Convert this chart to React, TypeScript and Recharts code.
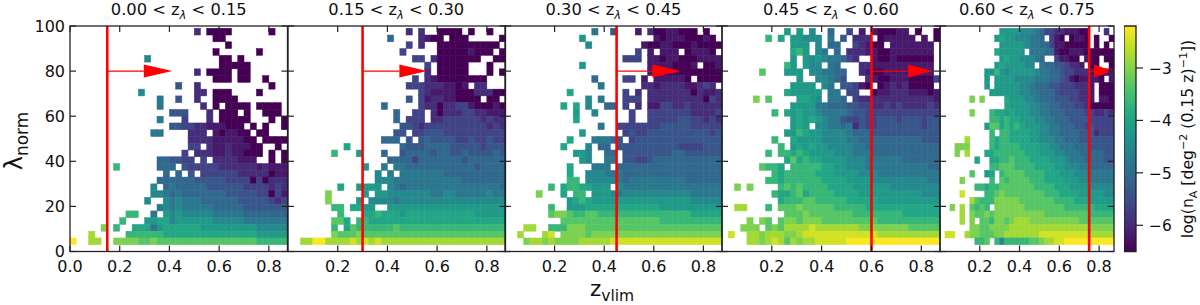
import { Bar, BarChart, ReferenceLine, Scatter, ScatterChart, XAxis, YAxis } from 'recharts';

// one string per lambda bin, top row (96-99) first; each char is an index into logLevels, '.' = no clusters
const rows000to015 = [
  '..... ..... ..... ..... 2.000 0.... ..0..',
  '..... ..... ..... ..... ...00 ..... .....',
  '..... ..... ..... ..... ..... 0.... .....',
  '..... ..... ..... ..... ...0. ..... 0....',
  '..... ..... ..7.. ..... ....0 0.0.. .....',
  '..... ..... ..... ..... ....0 0000. .....',
  '..... ..... ..... ..... 2.000 0.00. .....',
  '..... ..... ..... ..... ...00 0.00. .0...',
  '..... ..... ..... ..4.. 2.... ..... ..0..',
  '..... ..... .7... ..... 22.00 0.... 0....',
  '..... ..... ....6 ..4.. 2..00 00... .....',
  '..... ..... ....6 ..... .2.0. 0000. 0000.',
  '..... ..... ..... .444. ..2.0 00.0. .000.',
  '..... ..... ....6 ...3. ..2.0 0000. ..0.0',
  '..... ..... ..... .4433 22111 000.0 .0..0',
  '..... ..... ...66 ....2 22.10 1100. 00...',
  '..... ..... ..... ....2 22211 11100 .0000',
  '..... ..... ..... ....3 3.211 21110 0..0.',
  '..... ..... ..... ...3. 22211 21100 0.0.0',
  '..... ..... ....5 54433 .3.22 22111 ..0.0',
  '..... ..a.. ....5 55.43 33332 22222 12111',
  '..... ..... ..... 5.5.4 .3333 33222 22011',
  '..... ..... ....5 55555 44444 33330 30222',
  '..... ..... ...7. 56555 55444 44433 33232',
  '..... ..... ...77 65655 55555 44444 33031',
  '..... ..... ..7.. 76766 65555 55444 44323',
  '..... ..... ....6 76766 66655 55544 44444',
  '..... ....a a..6. 87877 77766 66655 55555',
  '..... ...a. ..889 97888 88877 77766 66666',
  '..... c.a.. 99968 99999 98888 88888 77777',
  '...d. ....a aaaaa 99999 99999 99999 88888',
  'f..dd ..ccc cbbcb bbbbb bbbbb bbbbb aaaaa',
];

const rows015to030 = [
  '..... ..... ..... ....2 .2..0 000.0 ..0..',
  '..... ..... ..... .5... .2100 .000. ....0',
  '..... ..... ..... ....3 .2..0 00000 0000.',
  '..... ..... ..... ...3. ....0 00001 000.0',
  '..... ..... ..... ..... 33.20 00000 0..00',
  '..... ..... ..... ..... ..3.0 0000. ..0..',
  '..... ..... ..... ..... ..2.0 0000. ..0.0',
  '..... ..... ..... ..... 3.210 00000 00...',
  '..... ..... ..... ....3 33222 1101. 22...',
  '..... ..... ..... ..... .3211 11000 22200',
  '..... ..... ..... ....4 .3122 11000 0.00.',
  '..... ..... ..... 5.... .3220 22331 00010',
  '..... ..... ..... ..5.. 33.20 22233 22111',
  '..... ..... ..... ..5.3 33.22 33333 32322',
  '..... ..... ..... ...44 32333 33333 33232',
  '..... ..... ..... ..44. 33444 33333 33333',
  '..... ..... ..... 555.4 .4544 44334 33433',
  '..... ....9 ..... ...54 44555 54444 43444',
  '..... ..a.. .8... 5..45 55545 54454 44454',
  '..... ..... ..... .5555 35555 55545 55555',
  '..... ..... ..8.. 6.665 55555 55555 45555',
  '..... ..... ....7 .6.66 66666 55555 55555',
  '..... ..... ....7 77666 66666 66655 55555',
  '..... ...9. .8888 .7656 66666 66666 66665',
  '..... .c... ..8.8 87777 77766 77666 66766',
  '..... .c... .8.77 77677 77777 77777 77777',
  '..... ..aa. 9988. .8888 88888 88888 88888',
  '..... ...a. ..99a 99989 99999 99999 88888',
  '..... ..bb9 .aa99 99999 99999 99999 99999',
  '..... ..a.9 baaaa aabaa aaaaa aaaaa aaaaa',
  '..... ..cbb bcbbb bbbbb bbbbb bbbbb bbbbb',
  '..ddf fdddd edede ddddd ddddd ddddd ddddd',
];

const rows030to045 = [
  '..... ..... ....6 ..4.. .1.20 01100 0.0..',
  '..... ..... ..8.. ..... ....1 01110 0010.',
  '..... ..... ...7. ..... ..100 11000 10000',
  '..... ..... ..... ..... .3.1. 111.0 1110.',
  '..... ..... ..... ....3 33.11 01100 01111',
  '..... ..... ..8.. ..... ...11 11000 1.001',
  '..... ..... ..... ..... ...10 00000 00000',
  '..... ..... ....5 ....3 3.1.1 11110 .0000',
  '..... ..... ..... 6.... ..221 22221 1232.',
  '..... ..... 9.... ....3 .2.22 22222 02112',
  '..... ..... ...7. 6...3 33.22 22222 22032',
  '..... ....9 .9.7. .55.3 .2.11 33223 22222',
  '..... ..... .8..7 ..... 3..33 33333 22223',
  '..... ..... .9... ..... 3..33 33344 33232',
  '..... ..... ..... 6..33 33333 44444 33333',
  '..... ..... ..8.. ....3 43344 44444 44434',
  '..... ..... 9...6 6654. 34444 44444 44444',
  '..... ....9 ...7. 55.44 44444 44433 33444',
  '..... ..... .887. .55.4 44444 44554 44444',
  '..... ..... ..87. .66.4 43345 55555 55555',
  '..... ..... 9...6 66.55 55555 55555 55555',
  '..... ..... 9..77 76665 55555 55555 55555',
  '..... ..... aa.77 77765 66666 66665 55555',
  '..... ..a.9 aa998 88.76 66666 66666 66666',
  '..... c...9 .aa.8 88767 77777 77777 66666',
  '..... ..... 89a98 88888 88888 88888 77777',
  '..... ..a.. 88899 99999 99999 88888 88888',
  '..... ..bcc baabb aaaaa aaaaa aaaaa 99999',
  '..... ....b bbbbb bbbbb bbbbb aaaaa aaaaa',
  '...dd ..aaa cccbb bbbbb bbbbb bbbbb bbbbb',
  '..d.. .de.c cccbc ccccc ccccc ccccc ccccc',
  '...cd dcdcc ccddd ddeee eeeee eeeee eeeee',
];

const rows045to060 = [
  '..... ..... 8.8.7 ..5.. 3.1.1 00011 .0..0',
  '..... ..a.9 .8877 7.6.4 .222. 01111 1.1.0',
  '..... ..... .888. 7.55. .3210 0.111 1111.',
  '..... ..... .9a8. 76.5. 22211 00111 1111.',
  '..... ..... .8.87 87665 32..1 00100 0000.',
  '..... ..... a8.87 7.65. ..221 11111 1111.',
  '..... .b... 888.7 76655 ..210 01111 1111.',
  '..... ..... ..8.. 77654 ...21 00111 00003',
  '..... ..... .8888 .76.4 4310. 01212 0000.',
  '..... ..... 98888 8.66. 33..0 11222 11101',
  '..... c.b.. ..998 7.665 .3222 22222 22221',
  '..... ..... .8888 66555 44332 23232 22232',
  '..... ...a. 98988 76666 54433 33333 33333',
  '..... ..... .8989 87664 33433 44434 44344',
  '..... ..... .898. 77665 62433 44444 44344',
  '..... ..... 88a98 87777 65554 44444 44444',
  '..... ...a. .9888 87777 66555 55555 55444',
  '..... ....a .8989 88777 76655 55555 55555',
  '..... ..a.a a9a98 88877 76665 55555 55555',
  '..... ..... 9b9a9 98888 77766 66665 55555',
  '..... .baa9 .aaaa a9988 77766 66666 66655',
  '..... ...a9 aaaaa 99988 88777 66666 66666',
  '..... ..aa9 aaaaa a9999 88887 77777 77766',
  '..c.c ....a babaa aa999 98888 88777 77777',
  '..... ...a9 9ab9a aaa99 99888 88888 88777',
  '..... ....9 aaabb aaaaa 99999 88888 88888',
  '..dd. ..a.b bbcbb bbbaa aaa99 99999 99999',
  '..... ..... bbbcb bbbbb baaaa aaaa9 99999',
  '....c .cb.b ccbcc cbbbb bbbbb aaaaa aaaaa',
  '...cc c.bcb dddde ddddd ddccc ccccc bbbbb',
  '.e..d dcddd ccdee eeeee eeeee ddddd ddddd',
  '....d dcded bdcdd eeeee fffff fffff fffff',
];

const rows060to075 = [
  '..... ..... ..888 87776 53322 11100 ...2.',
  '..... ..... .8988 77766 5.310 .0110 .0..0',
  '..... ..... ..888 88766 55311 00000 .0.0.',
  '..... ..... .9888 88.66 65510 01110 00000',
  '..... ..... ..898 87776 5..31 100.1 00.00',
  '..... ..... .8988 8877. 65544 3221. 00..0',
  '..... ....8 8a878 88887 66554 33222 11111',
  '..... ....8 .8888 77776 66554 31011 110.1',
  '..... ....8 .8888 87765 55443 33222 1.000',
  '..... ..... 88888 87766 55543 33322 1.000',
  '..... .c.c. ...98 88776 55544 43322 1.110',
  '..... ..... ...98 88877 66554 44332 00000',
  '..... .c... a9989 88877 66555 44443 32232',
  '..... ..... aa9a9 98887 76655 54444 33333',
  '..... ....8 bb9a9 a9888 77665 55443 43333',
  '..... ..... a.aa9 99988 77665 55544 42333',
  '..... d.... a9aa9 99988 77766 55544 44444',
  '...cc c.... a9aaa a9999 88776 66555 44444',
  '...c. d...9 9aaaa aa999 88877 66655 55544',
  '..... ..9.. 99aab aaa99 99888 76665 55544',
  '..... ..... aabbb aaaa9 99988 77766 55555',
  '..... .b..8 9.abb bbaaa a9998 88777 66666',
  '....c ..... a.bab bbbaa a9999 88877 66666',
  '..... ..aa9 aabbb bbbba aaa99 98888 77777',
  '....e ....a abcbb bbbbb baaa9 99988 88877',
  '..... .dbaa acccc cbbbb bbbaa aa999 88888',
  '..c.d .baba .cccc ccbbb bbbbb aaaaa a9999',
  '....d .cbbc bcccc ccccc cbbbb bbbbb aaaaa',
  '....d .c.bb accbc dddcc ccccc cccbb bbbbb',
  '..... .ccbb ccccd ddddd ddddd ddddd ccccc',
  '.ee.. dccbb bccdd ddddd eeeee eeeee ddddd',
  '..... ..aab .a7aa aaabb cddee fffff fffff',
];

const logLevels = [-6.5, -6.2, -5.95, -5.65, -5.35, -5.05, -4.8, -4.5, -4.2, -3.95, -3.65, -3.35, -3.05, -2.8, -2.5, -2.2];

const viridisStops = ['#440154', '#482475', '#414487', '#355f8d', '#2a788e', '#21918c', '#22a884', '#44bf70', '#7ad151', '#bddf26', '#fde725'];

const panelTitles = ['0.00', '0.15', '0.30', '0.45', '0.60', '0.75'];
const panelLimits = [0.15, 0.3, 0.45, 0.6, 0.75];
const arrowBases = [0.297, 0.448, 0.594, 0.747, 0.774];
const arrowTips = [0.412, 0.56, 0.709, 0.847, 0.87];
const panelRows = [rows000to015, rows015to030, rows030to045, rows045to060, rows060to075];

const panelLefts = [70, 287.5, 505, 722, 940];
const panelRights = [287.5, 505, 722, 940, 1114];

const zTicks = [0, 0.2, 0.4, 0.6, 0.8];
const zTicksInner = [0.2, 0.4, 0.6, 0.8];
const lambdaTicks = [0, 20, 40, 60, 80, 100];
const barTicks = [-6, -5, -4, -3];

const Z_MAX = 0.875;
const Z_BIN = 0.025;
const LAMBDA_BIN = 3;
const LAMBDA_START = 99;
const TOP = 26;
const BOTTOM = 251.5;
const GUTTER = 40;
const AXIS_H = 30;
const INK = '#222222';
const FONT = '"DejaVu Sans", sans-serif';
const TICK = 6;

function colorFor(value: number) {
  const t = Math.min(1, Math.max(0, (value + 6.5) / 4.3)) * (viridisStops.length - 1);
  const i = Math.min(viridisStops.length - 2, Math.floor(t));
  const a = viridisStops[i];
  const b = viridisStops[i + 1];
  const mix = (s: number) => {
    const p = parseInt(a.slice(s, s + 2), 16);
    const q = parseInt(b.slice(s, s + 2), 16);
    return Math.round(p + (q - p) * (t - i));
  };
  return `rgb(${mix(1)},${mix(3)},${mix(5)})`;
}

function toCells(rows: string[]) {
  const cells: { z: number; lambda: number; value: number }[] = [];
  rows.forEach((row, r) => {
    row.replace(/ /g, '').split('').forEach((ch, c) => {
      if (ch === '.') return;
      cells.push({
        z: (c + 0.5) * Z_BIN,
        lambda: LAMBDA_START - (r + 0.5) * LAMBDA_BIN,
        value: logLevels[parseInt(ch, 16)],
      });
    });
  });
  return cells;
}

function Panel({ index }: { index: number }) {
  const left = panelLefts[index];
  const right = panelRights[index];
  const plotW = right - left;
  const plotH = BOTTOM - TOP;
  const pxPerZ = plotW / Z_MAX;
  const cellW = Z_BIN * pxPerZ;
  const cellH = (LAMBDA_BIN / 100) * plotH;
  const limit = panelLimits[index];
  const base = arrowBases[index];
  const tip = arrowTips[index];
  const chartProps = {
    width: plotW + GUTTER * 2,
    height: 305,
    margin: { top: TOP, bottom: 305 - BOTTOM - AXIS_H, left: 0, right: GUTTER },
  };

  const xTick = (props: any) => {
    const x = props.x;
    return (
      <g>
        <line x1={x} x2={x} y1={BOTTOM} y2={BOTTOM - TICK} stroke={INK} strokeWidth={1.2} />
        <line x1={x} x2={x} y1={TOP} y2={TOP + TICK} stroke={INK} strokeWidth={1.2} />
        <text x={x} y={272} textAnchor="middle" fontSize={16} fontFamily={FONT} fill="#111">
          {props.payload.value.toFixed(1)}
        </text>
      </g>
    );
  };
  const yTick = (props: any) => {
    const y = props.y;
    return (
      <g>
        <line x1={GUTTER} x2={GUTTER + TICK} y1={y} y2={y} stroke={INK} strokeWidth={1.2} />
        <line x1={GUTTER + plotW} x2={GUTTER + plotW - TICK} y1={y} y2={y} stroke={INK} strokeWidth={1.2} />
        {index === 0 && (
          <text x={GUTTER - 5} y={y + 5.7} textAnchor="end" fontSize={16} fontFamily={FONT} fill="#111">
            {props.payload.value}
          </text>
        )}
      </g>
    );
  };

  return (
    <>
      <div style={{ position: 'absolute', left: left - GUTTER, top: 0 }}>
        <ScatterChart {...chartProps}>
          <XAxis dataKey="z" type="number" domain={[0, Z_MAX]} height={AXIS_H} tick={false} tickLine={false} axisLine={false} />
          <YAxis dataKey="lambda" type="number" domain={[0, 100]} width={GUTTER} tick={false} tickLine={false} axisLine={false} />
          <Scatter
            data={toCells(panelRows[index])}
            isAnimationActive={false}
            shape={(p: any) => (
              <rect
                x={p.cx - cellW / 2}
                y={p.cy - cellH / 2}
                width={cellW}
                height={cellH}
                fill={colorFor(p.payload.value)}
                stroke={colorFor(p.payload.value)}
                strokeWidth={0.5}
              />
            )}
          />
        </ScatterChart>
      </div>
      {/* second chart on top: red limit, arrow and ticks have to sit over the cells */}
      <div style={{ position: 'absolute', left: left - GUTTER, top: 0 }}>
        <ScatterChart {...chartProps}>
          <XAxis
            dataKey="z"
            type="number"
            domain={[0, Z_MAX]}
            ticks={index === 0 ? zTicks : zTicksInner}
            interval={0}
            height={AXIS_H}
            tickLine={false}
            axisLine={false}
            tick={xTick}
          />
          <YAxis
            dataKey="lambda"
            type="number"
            domain={[0, 100]}
            ticks={lambdaTicks}
            interval={0}
            width={GUTTER}
            tickLine={false}
            axisLine={false}
            tick={yTick}
          />
          <ReferenceLine x={limit} stroke="#ff0000" strokeWidth={2.6} />
          <ReferenceLine segment={[{ x: limit, y: 80 }, { x: base, y: 80 }]} stroke="#ff0000" strokeWidth={1.2} />
          <Scatter
            data={[{ z: base, lambda: 80 }]}
            isAnimationActive={false}
            shape={(p: any) => (
              <polygon
                points={`${p.cx},${p.cy - 6.5} ${p.cx},${p.cy + 6.5} ${p.cx + (tip - base) * pxPerZ},${p.cy}`}
                fill="#ff0000"
              />
            )}
          />
        </ScatterChart>
        <svg style={{ position: 'absolute', left: 0, top: 0, pointerEvents: 'none' }} width={plotW + GUTTER * 2} height={305}>
          <rect x={GUTTER} y={TOP} width={plotW} height={plotH} fill="none" stroke={INK} strokeWidth={1.3} />
        </svg>
      </div>
    </>
  );
}

const barData = [{ name: 'n', range: [-6.5, -2.2] }];

function ColorBar() {
  const barTick = (props: any) => (
    <g>
      <line x1={12} x2={19} y1={props.y} y2={props.y} stroke={INK} strokeWidth={1.2} />
      <text x={25} y={props.y + 5.7} fontSize={15.4} fontFamily={FONT} fill="#111">
        {`\u2212${Math.abs(props.payload.value)}`}
      </text>
    </g>
  );
  return (
    <div style={{ position: 'absolute', left: 1124, top: 0 }}>
      <BarChart
        width={76}
        height={305}
        data={barData}
        barCategoryGap={0}
        margin={{ top: TOP, bottom: 305 - BOTTOM, left: 0, right: 0 }}
      >
        <defs>
          <linearGradient id="viridisBar" x1="0" y1="1" x2="0" y2="0">
            {viridisStops.map((c, i) => (
              <stop key={c} offset={i / (viridisStops.length - 1)} stopColor={c} />
            ))}
          </linearGradient>
        </defs>
        <XAxis dataKey="name" type="category" hide />
        <YAxis
          orientation="right"
          type="number"
          domain={[-6.5, -2.2]}
          ticks={barTicks}
          interval={0}
          width={64}
          tickLine={false}
          axisLine={false}
          tick={barTick}
        />
        <Bar dataKey="range" fill="url(#viridisBar)" stroke={INK} strokeWidth={1.3} isAnimationActive={false} />
      </BarChart>
    </div>
  );
}

const textBase = { position: 'absolute', fontFamily: FONT, color: '#111', whiteSpace: 'nowrap', lineHeight: 1 } as const;

function Title({ index }: { index: number }) {
  const center = (panelLefts[index] + panelRights[index]) / 2;
  return (
    <div style={{ ...textBase, left: center - 110, width: 220, top: 2, textAlign: 'center', fontSize: 16.3 }}>
      {panelTitles[index]} &lt; z
      <sub style={{ fontSize: 11.5, fontStyle: 'italic', lineHeight: 0 }}>λ</sub> &lt; {panelTitles[index + 1]}
    </div>
  );
}

export default function App() {
  return (
    <div style={{ position: 'absolute', left: 0, top: 0, width: 1200, height: 305, overflow: 'hidden', background: '#fff' }}>
      {panelRows.map((_, i) => (
        <Panel key={i} index={i} />
      ))}
      {panelRows.map((_, i) => (
        <Title key={i} index={i} />
      ))}
      <ColorBar />
      <div style={{ ...textBase, left: 590, top: 278, fontSize: 21.5 }}>
        z<sub style={{ fontSize: 15.5, lineHeight: 0 }}>vlim</sub>
      </div>
      <div style={{ ...textBase, left: 14, top: 141, fontSize: 24, transform: 'translate(-50%, -50%) rotate(-90deg)' }}>
        λ<sub style={{ fontSize: 17, lineHeight: 0 }}>norm</sub>
      </div>
      <div style={{ ...textBase, left: 1188, top: 139, fontSize: 15.7, transform: 'translate(-50%, -50%) rotate(-90deg)' }}>
        log(n<sub style={{ fontSize: 11, lineHeight: 0 }}>A</sub> [deg
        <sup style={{ fontSize: 11, lineHeight: 0 }}>−2</sup> (0.15 z)
        <sup style={{ fontSize: 11, lineHeight: 0 }}>−1</sup>])
      </div>
    </div>
  );
}
